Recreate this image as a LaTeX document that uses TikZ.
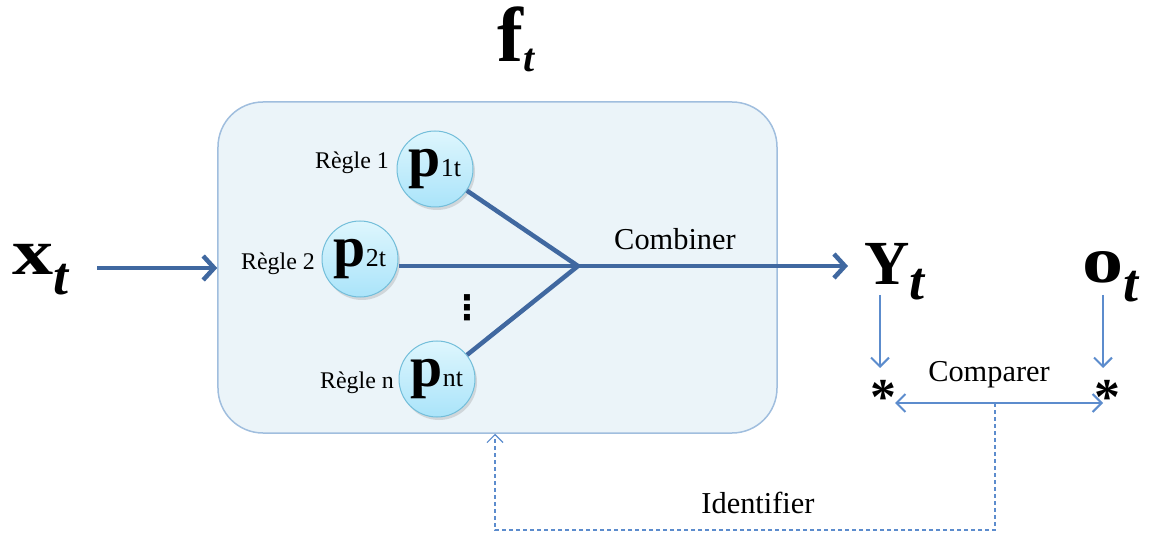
\documentclass[tikz,border=0pt]{standalone}
\usepackage{fontspec}
\setmainfont{Liberation Serif}
\newfontfamily\symfont{DejaVu Sans}
\usepackage{tikz}
\usetikzlibrary{arrows.meta, calc, positioning}
\usetikzlibrary{shadows}

\definecolor{flowblue}{RGB}{64,104,160}
\definecolor{thinblue}{RGB}{92,140,205}
\definecolor{boxfill}{RGB}{235,244,249}
\definecolor{boxline}{RGB}{160,190,222}
\definecolor{balltop}{RGB}{222,246,253}
\definecolor{ballbot}{RGB}{170,228,250}
\definecolor{ballline}{RGB}{115,190,218}

\tikzset{
  rulenode/.style={circle, minimum size=76bp, inner sep=0pt, draw=ballline, line width=1bp,
    top color=balltop, bottom color=ballbot,
    drop shadow={shadow xshift=2bp, shadow yshift=-3bp, opacity=0.25}},
  flowline/.style={line width=4.5bp, flowblue},
  flowarrow/.style={flowline, -{Straight Barb[length=11bp, width=24bp]}},
  thinarrow/.style={line width=2bp, thinblue, -{Straight Barb[length=9bp, width=18bp]}},
  feedline/.style={line width=1.2bp, thinblue, dash pattern=on 4bp off 3bp},
  lbl/.style={inner sep=0pt, font=\fontsize{30.5}{30.5}\selectfont},
  rulelbl/.style={inner sep=0pt, font=\fontsize{24}{24}\selectfont},
  starnode/.style={inner sep=0pt, font=\fontsize{52}{52}\selectfont\bfseries},
  symnode/.style={inner sep=0pt, anchor=base west}
}

% letter, its size, size of the t, drop of the t
\newcommand{\bigsym}[4]{{\fontsize{#2}{#2}\selectfont\bfseries #1}\raisebox{-#4bp}{\fontsize{#3}{#3}\selectfont\bfseries\itshape t}}
\newcommand{\pname}[1]{{\fontsize{58}{58}\selectfont\bfseries p}{\fontsize{26}{26}\selectfont #1t}}

\begin{document}
\begin{tikzpicture}[x=1bp, y=-1bp]
    \useasboundingbox (0,0) rectangle (1152,535);

    % the block f_t
    \node[draw=boxline, fill=boxfill, line width=1.5bp, rounded corners=45bp,
        minimum width=559bp, minimum height=331bp] (box) at (497.5,267.5) {};
    \node[symnode] (ft) at (497,62) {\bigsym{f}{78}{40}{10}};

    % the rules
    \node[rulenode] (p1) at (435,169) {\pname{1}};
    \node[rulenode] (p2) at (360,259) {\pname{2}};
    \node[rulenode] (pn) at (437,379) {\pname{n}};
    \node[rulelbl, anchor=east] (r1) at (389,163) {Règle 1};
    \node[rulelbl, anchor=east] (r2) at (315,264) {Règle 2};
    \node[rulelbl, anchor=east] (rn) at (394,383) {Règle n};
    \node[inner sep=0pt, font=\fontsize{34}{34}\symfont\bfseries] (dots) at (467,308) {⋮};

    % combining the rules
    \coordinate (j) at (578,266);
    \draw[flowline] (p1) -- (j);
    \draw[flowline] (pn) -- (j);
    \draw[flowline] (j) -- (j -| p2.east);
    \node[lbl, anchor=south] (comb) at (675,250) {Combiner};

    % input and output
    \node[symnode] (xt) at (12,275) {\bigsym{\scalebox{1.25}[1]{x}}{66}{54}{20}};
    \coordinate (xa) at (97,268);
    \draw[flowarrow] (xa) -- (xa -| box.west);
    \node[symnode] (Yt) at (864,285) {\bigsym{Y}{63}{54}{15}};
    \node[symnode] (ot) at (1082,283) {\bigsym{\scalebox{1.25}[1]{o}}{66}{54}{19}};
    \draw[flowarrow] (j) -- ([xshift=-16bp]Yt.west |- j);

    % comparison
    \node[starnode] (sY) at (883,397) {*};
    \node[starnode] (so) at (1107,397) {*};
    \draw[thinarrow] (880,295) -- (880,368);
    \draw[thinarrow] (1103,295) -- (1103,368);
    \draw[thinarrow, {Straight Barb[length=9bp, width=18bp]}-{Straight Barb[length=9bp, width=18bp]}]
        (895,403) coordinate (cl) -- (1103,403) coordinate (cr);
    \node[lbl] (cmp) at (989,375) {Comparer};

    % feedback
    \coordinate (tap) at (995,403);
    \coordinate (c1) at (995,530);
    \coordinate (c2) at (495,530);
    \draw[feedline, -{Straight Barb[length=8bp, width=16bp]}] (tap) -- (c1) -- (c2) -- (c2 |- box.south);
    \node[lbl] (idf) at (758,503) {Identifier};
\end{tikzpicture}
\end{document}
